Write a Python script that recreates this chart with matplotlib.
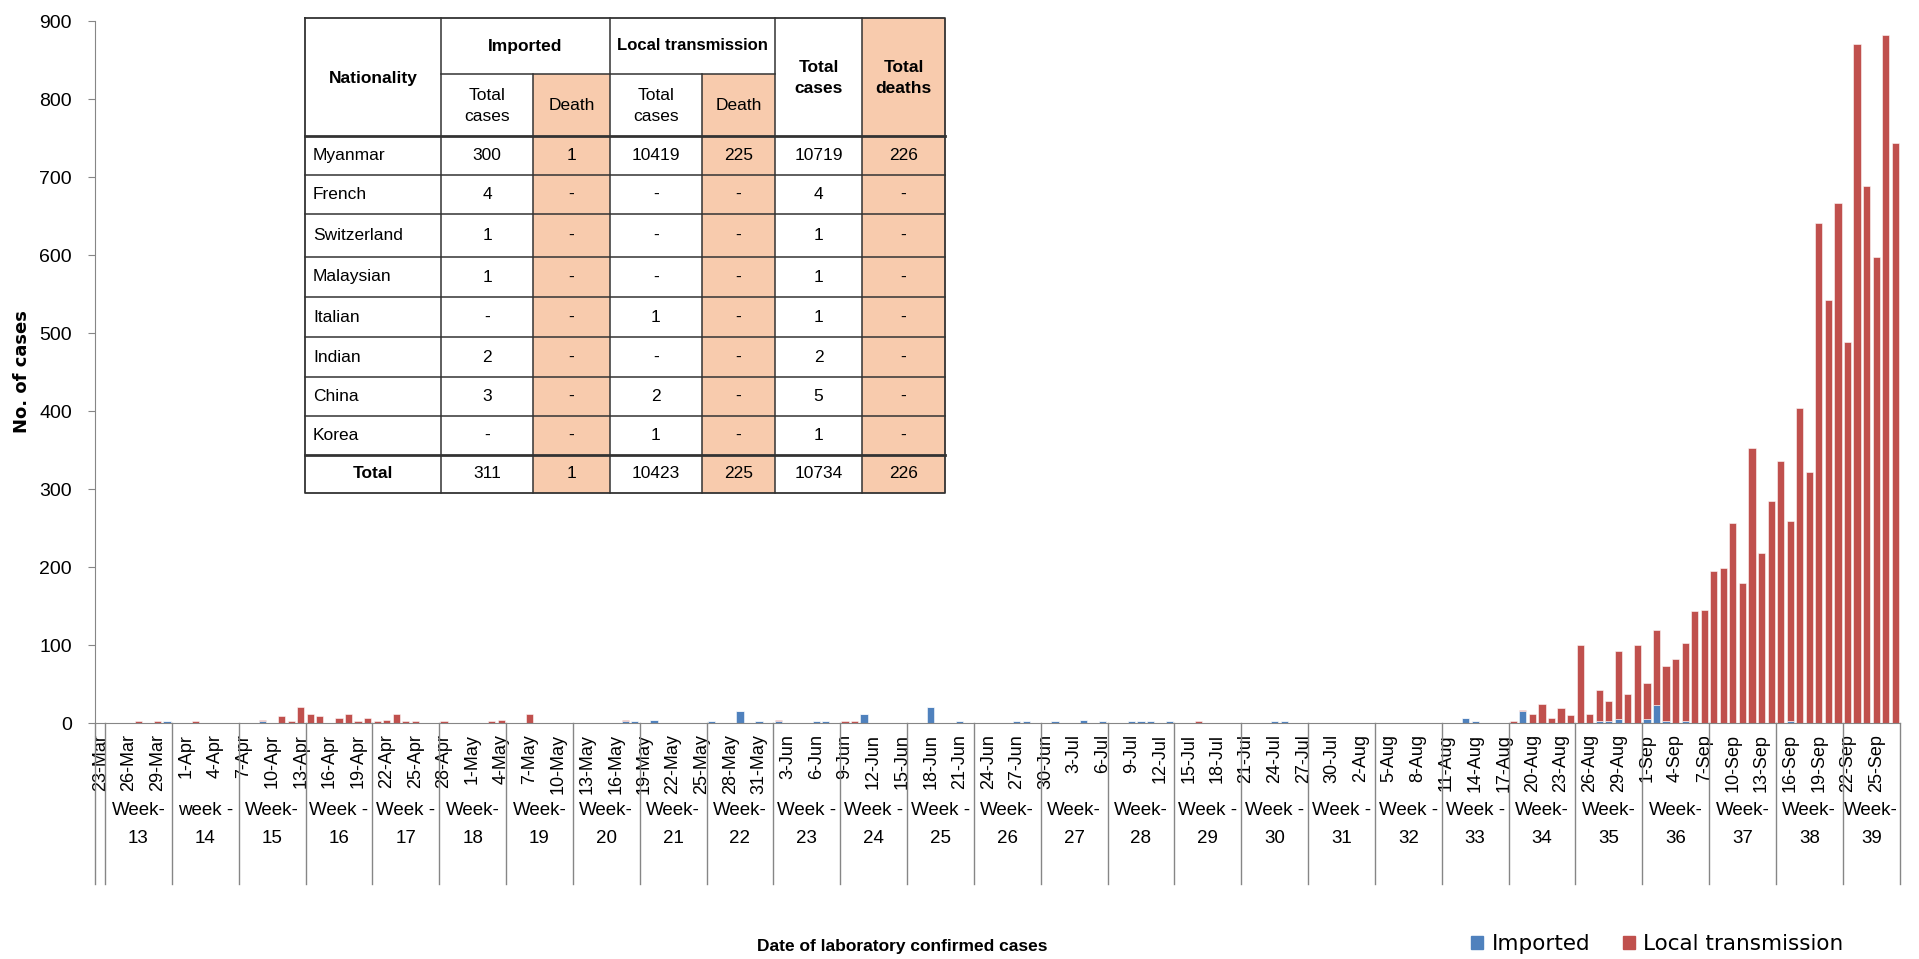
import pandas as pd
import matplotlib
matplotlib.use("Agg")
from matplotlib import pyplot as plt
from matplotlib import transforms
from matplotlib.patches import Rectangle, Patch

plt.rcParams['font.family'] = ['Liberation Sans Narrow', 'Liberation Sans', 'DejaVu Sans']

# daily cases from 23-Mar, first value is 23-Mar alone, then one row per week (13..39)
imported_by_week = [
    [0],
    [0, 0, 0, 0, 0, 0, 2],      # 13
    [0, 0, 0, 0, 0, 0, 0],      # 14
    [0, 0, 2, 0, 0, 0, 0],      # 15
    [0, 0, 0, 0, 0, 0, 0],      # 16
    [0, 0, 0, 0, 0, 0, 0],      # 17
    [0, 0, 0, 0, 0, 0, 0],      # 18
    [0, 0, 0, 0, 0, 0, 0],      # 19
    [0, 0, 0, 0, 0, 2, 2],      # 20
    [0, 4, 0, 0, 0, 0, 0],      # 21
    [2, 0, 0, 15, 0, 2, 0],     # 22
    [2, 0, 0, 0, 2, 2, 0],      # 23
    [0, 0, 11, 0, 0, 0, 0],     # 24
    [0, 0, 20, 0, 0, 2, 0],     # 25
    [0, 0, 0, 0, 2, 2, 0],      # 26
    [0, 2, 0, 0, 4, 0, 2],      # 27
    [0, 0, 2, 2, 2, 0, 2],      # 28
    [0, 0, 0, 0, 0, 0, 0],      # 29
    [0, 0, 0, 2, 2, 0, 0],      # 30
    [0, 0, 0, 0, 0, 0, 0],      # 31
    [0, 0, 0, 0, 0, 0, 0],      # 32
    [0, 0, 7, 2, 0, 0, 0],      # 33
    [0, 15, 0, 0, 0, 0, 0],     # 34
    [0, 0, 2, 2, 5, 0, 0],      # 35
    [5, 23, 2, 0, 2, 0, 0],     # 36
    [0, 0, 0, 0, 0, 0, 0],      # 37
    [0, 2, 0, 0, 0, 0, 0],      # 38
    [0, 0, 0, 0, 0, 0],         # 39
]
local_by_week = [
    [0],
    [0, 0, 0, 2, 0, 2, 0],
    [0, 0, 2, 0, 0, 0, 0],
    [0, 0, 2, 0, 9, 2, 20],
    [11, 9, 0, 6, 11, 2, 6],
    [2, 4, 11, 2, 2, 0, 0],
    [2, 0, 0, 0, 0, 2, 4],
    [0, 0, 11, 0, 0, 0, 0],
    [0, 0, 0, 0, 0, 2, 0],
    [0, 0, 0, 0, 0, 0, 0],
    [0, 0, 0, 0, 0, 0, 0],
    [2, 0, 0, 0, 0, 0, 0],
    [2, 2, 0, 0, 0, 0, 0],
    [0, 0, 0, 0, 0, 0, 0],
    [0, 0, 0, 0, 0, 0, 0],
    [0, 0, 0, 0, 0, 0, 0],
    [0, 0, 0, 0, 0, 0, 0],
    [0, 0, 2, 0, 0, 0, 0],
    [0, 0, 0, 0, 0, 0, 0],
    [0, 0, 0, 0, 0, 0, 0],
    [0, 0, 0, 0, 0, 0, 0],
    [0, 0, 0, 0, 0, 0, 0],
    [2, 2, 12, 25, 7, 19, 10],
    [100, 12, 40, 26, 87, 37, 100],
    [46, 96, 71, 82, 101, 143, 145],
    [195, 199, 256, 179, 352, 218, 284],
    [336, 257, 404, 322, 641, 542, 667],
    [488, 871, 688, 597, 882, 744],
]
week_prefix = ["", "Week-", "week -", "Week-", "Week -", "Week -", "Week-", "Week-", "Week-",
               "Week-", "Week-", "Week -", "Week -", "Week -", "Week-", "Week-", "Week-",
               "Week -", "Week -", "Week -", "Week -", "Week -", "Week-", "Week-", "Week-",
               "Week-", "Week-", "Week-"]
week_num = [""] + [str(w) for w in range(13, 40)]

# inset table
tbl_rows = [
    ["Myanmar", "300", "1", "10419", "225", "10719", "226"],
    ["French", "4", "-", "-", "-", "4", "-"],
    ["Switzerland", "1", "-", "-", "-", "1", "-"],
    ["Malaysian", "1", "-", "-", "-", "1", "-"],
    ["Italian", "-", "-", "1", "-", "1", "-"],
    ["Indian", "2", "-", "-", "-", "2", "-"],
    ["China", "3", "-", "2", "-", "5", "-"],
    ["Korea", "-", "-", "1", "-", "1", "-"],
    ["Total", "311", "1", "10423", "225", "10734", "226"],
]

imported = [v for wk in imported_by_week for v in wk]
local = [v for wk in local_by_week for v in wk]
dates = pd.date_range("2020-03-23", periods=len(imported))
date_lbl = ["{}-{}".format(d.day, d.strftime("%b")) for d in dates]
x = list(range(len(imported)))

blue = "#4F81BD"
red = "#C0504D"
grey = "#868686"

fig = plt.figure(figsize=[19.19, 9.59], dpi=100)
ax = fig.add_axes([95.45 / 1919, 1 - 723 / 959, (1900 - 95.45) / 1919, (723 - 21) / 959])
ax.bar(x, imported, width=0.75, color=blue, edgecolor=(1, 1, 1, 0.55), linewidth=0.7, label="Imported")
ax.bar(x, local, width=0.75, bottom=imported, color=red, edgecolor=(1, 1, 1, 0.55), linewidth=0.7,
       label="Local transmission")
ax.set_xlim(-0.5, len(x) - 0.5)
ax.set_ylim(0, 900)
ax.set_yticks(range(0, 901, 100))
ax.tick_params(axis="y", labelsize=14, length=5, color=grey, pad=12)
ax.set_xticks(x[::3], labels=date_lbl[::3], rotation=90, fontsize=13)
ax.tick_params(axis="x", length=0, pad=8)
for s in ["top", "right"]:
    ax.spines[s].set_visible(False)
for s in ["left", "bottom"]:
    ax.spines[s].set_color(grey)

# week grouping below the date labels
trans = transforms.blended_transform_factory(ax.transData, ax.transAxes)
start = 0
for i, wk in enumerate(local_by_week):
    end = start + len(wk)
    ax.plot([start - 0.5, start - 0.5], [0, -0.229], transform=trans, color=grey, lw=1, clip_on=False)
    mid = (start + end - 1) / 2
    ax.text(mid, -0.125, week_prefix[i], transform=trans, ha="center", va="center", fontsize=13.5)
    ax.text(mid, -0.165, week_num[i], transform=trans, ha="center", va="center", fontsize=13.5)
    start = end
ax.plot([start - 0.5, start - 0.5], [0, -0.229], transform=trans, color=grey, lw=1, clip_on=False)

fig.text(22 / 1919, 1 - 372 / 959, "No. of cases", rotation=90, ha="center", va="center",
         fontsize=13, weight="bold", family="DejaVu Sans")
fig.text(902 / 1919, 1 - 946 / 959, "Date of laboratory confirmed cases", ha="center", va="center",
         fontsize=12.5, weight="bold")
fig.legend(handles=[Patch(color=blue), Patch(color=red)], labels=["Imported", "Local transmission"],
           loc="center left", bbox_to_anchor=(1452 / 1919, 1 - 944 / 959), ncol=2, frameon=False,
           handlelength=0.55, handleheight=0.55, handletextpad=0.4, columnspacing=1.5,
           prop={"family": "DejaVu Sans", "size": 15.5})

# table drawn on a pixel overlay
ov = fig.add_axes([0, 0, 1, 1], zorder=5)
ov.set_xlim(0, 1919)
ov.set_ylim(959, 0)
ov.axis("off")
cx = [305, 441, 533, 610, 702, 775, 862, 945]
ry = [18, 74, 136, 175, 214, 257, 297, 337, 377, 416, 455, 493]
shade = "#F8CBAD"
ov.add_patch(Rectangle((cx[0], ry[0]), cx[-1] - cx[0], ry[-1] - ry[0], facecolor="white", edgecolor="none"))
ov.add_patch(Rectangle((cx[2], ry[1]), cx[3] - cx[2], ry[-1] - ry[1], facecolor=shade, edgecolor="none"))
ov.add_patch(Rectangle((cx[4], ry[1]), cx[5] - cx[4], ry[-1] - ry[1], facecolor=shade, edgecolor="none"))
ov.add_patch(Rectangle((cx[6], ry[0]), cx[7] - cx[6], ry[-1] - ry[0], facecolor=shade, edgecolor="none"))
lc = "#333333"
ov.plot([cx[0], cx[-1], cx[-1], cx[0], cx[0]], [ry[0], ry[0], ry[-1], ry[-1], ry[0]], color=lc, lw=1.3)
ov.plot([cx[1], cx[5]], [ry[1], ry[1]], color=lc, lw=1.1)
for j, yy in enumerate(ry[2:-1]):
    lw = 2.0 if j in (0, 8) else 1.1
    ov.plot([cx[0], cx[-1]], [yy, yy], color=lc, lw=lw)
for j, xx in enumerate(cx[1:-1]):
    top = ry[1] if j in (1, 3) else ry[0]
    ov.plot([xx, xx], [top, ry[-1]], color=lc, lw=1.1)

fs = 12.5
ov.text((cx[0] + cx[1]) / 2, 78, "Nationality", ha="center", va="center", fontsize=fs, weight="bold")
ov.text((cx[1] + cx[3]) / 2, 46, "Imported", ha="center", va="center", fontsize=fs, weight="bold")
ov.text((cx[3] + cx[5]) / 2, 46, "Local transmission", ha="center", va="center", fontsize=12, weight="bold")
ov.text((cx[5] + cx[6]) / 2, 78, "Total\ncases", ha="center", va="center", fontsize=fs, weight="bold",
        linespacing=1.5)
ov.text((cx[6] + cx[7]) / 2, 78, "Total\ndeaths", ha="center", va="center", fontsize=fs, weight="bold",
        linespacing=1.5)
for k in (1, 3):
    ov.text((cx[k] + cx[k + 1]) / 2, 106, "Total\ncases", ha="center", va="center", fontsize=fs,
            linespacing=1.5)
    ov.text((cx[k + 1] + cx[k + 2]) / 2, 106, "Death", ha="center", va="center", fontsize=fs)
for r, row in enumerate(tbl_rows):
    yc = (ry[r + 2] + ry[r + 3]) / 2
    if row[0] == "Total":
        ov.text((cx[0] + cx[1]) / 2, yc, row[0], ha="center", va="center", fontsize=fs, weight="bold")
    else:
        ov.text(cx[0] + 8, yc, row[0], ha="left", va="center", fontsize=fs)
    for c, val in enumerate(row[1:]):
        ov.text((cx[c + 1] + cx[c + 2]) / 2, yc, val, ha="center", va="center", fontsize=fs)

fig.savefig("out.png", dpi=100)
